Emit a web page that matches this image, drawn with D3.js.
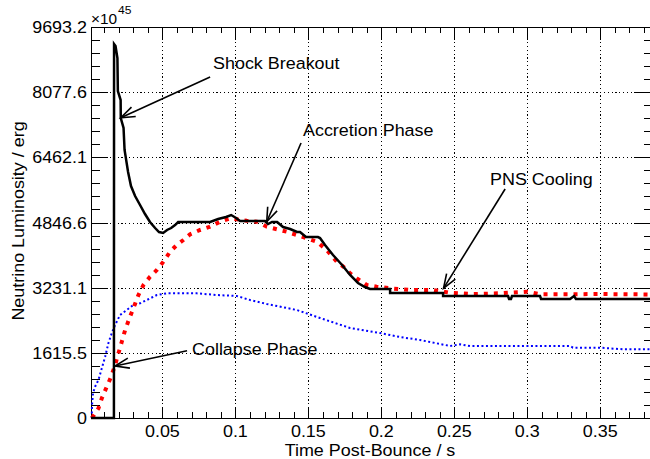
<!DOCTYPE html>
<html><head><meta charset="utf-8">
<script src="https://cdn.jsdelivr.net/npm/d3@7"></script>
<style>body{margin:0;background:#fff}svg{display:block}</style>
</head><body><svg id="c" width="650" height="459"></svg>
<script>
// ---- data ----
const blackT = [0.0011,0.0168,0.0169,0.0179,0.0192,0.0195,0.0214,0.0215,0.0234,0.0241,0.0265,0.0285,0.0313,0.0347,0.0381,0.0415,0.0450,0.0477,0.0505,0.0532,0.0560,0.0587,0.0608,0.0827,0.0882,0.0936,0.0971,0.1005,0.1032,0.1203,0.1224,0.1251,0.1286,0.1327,0.1375,0.1423,0.1443,0.1484,0.1566,0.1580,0.1614,0.1669,0.1731,0.1786,0.1840,0.1888,0.1922,0.2060,0.2060,0.2423,0.2423,0.2868,0.2875,0.2888,0.2895,0.3087,0.3094,0.3293,0.3320,0.3333,0.3861];
const blackL = [0,0,9271,9222,8924,8106,7883,7437,7189,6644,6098,5751,5503,5280,5057,4859,4710,4611,4586,4661,4710,4784,4859,4859,4933,4983,5032,4958,4884,4884,4809,4859,4859,4735,4685,4611,4611,4487,4487,4462,4289,4041,3793,3545,3347,3247,3198,3198,3099,3099,3024,3024,2950,2950,3024,3024,2950,2950,3024,2950,2950];

const redT = [0.0018,0.0062,0.0085,0.0119,0.0149,0.0176,0.0199,0.0222,0.0245,0.0274,0.0301,0.0336,0.0370,0.0416,0.0462,0.0507,0.0553,0.0599,0.0644,0.0690,0.0758,0.0827,0.0895,0.0964,0.1010,0.1078,0.1147,0.1215,0.1284,0.1352,0.1421,0.1489,0.1558,0.1626,0.1695,0.1740,0.1786,0.1832,0.1900,0.1968,0.2060,0.2197,0.2357,0.2471,0.2631,0.2813,0.2996,0.3087,0.3292,0.3498,0.3861];
const redL = [0,240,488,776,1024,1314,1604,1891,2182,2472,2720,3049,3297,3503,3669,3875,4123,4289,4413,4554,4661,4742,4866,4951,4926,4891,4866,4742,4678,4618,4537,4455,4370,4165,3875,3751,3587,3463,3297,3255,3215,3173,3173,3106,3074,3091,3131,3067,3067,3074,3062];

const blueT = [0.0016,0.0018,0.0025,0.0039,0.0062,0.0085,0.0108,0.0130,0.0153,0.0176,0.0210,0.0256,0.0301,0.0347,0.0393,0.0462,0.0530,0.0621,0.0736,0.0873,0.1010,0.1101,0.1215,0.1329,0.1421,0.1580,0.1786,0.1991,0.2128,0.2265,0.2471,0.2539,0.2608,0.3292,0.3313,0.3498,0.3656,0.3861];
const blueL = [0,322,620,776,942,1232,1520,1852,2100,2305,2553,2677,2801,2843,2925,3049,3091,3091,3091,3049,3024,2925,2826,2744,2677,2479,2231,2107,2008,1934,1785,1827,1785,1785,1743,1743,1703,1703];

const xTickValues = [0.05,0.1,0.15,0.2,0.25,0.3,0.35];
const xTickLabels = ["0.05","0.1","0.15","0.2","0.25","0.3","0.35"];
const yTickLabels = ["0","1615.5","3231.1","4846.6","6462.1","8077.6","9693.2"];
const yTickValues = [0,1615.53,3231.07,4846.6,6462.13,8077.67,9693.2];

const annLabels = ["Shock Breakout","Accretion Phase","PNS Cooling","Collapse Phase"];
const annTipT = [0.0215,0.1215,0.2426,0.0176];
const annTipL = [7445,4866,3215,1289];
const annTailT = [0.0827,0.1450,0.2848,0.0669];
const annTailL = [8453,6817,5677,1668];

// ---- layout ----
const L0 = 91, R0 = 653, T0 = 27, B0 = 418;
const FONT = "'Liberation Sans', Arial, Helvetica, sans-serif";
const FS = 16.3, SX = 1.1;

const x = d3.scaleLinear().domain([0.0011, 0.3861]).range([L0, R0]);
const y = d3.scaleLinear().domain([0, 9693.2]).range([B0, T0]);

const svg = d3.select("#c");
svg.append("rect").attr("width",650).attr("height",459).attr("fill","#fff");

function txt(str, px, py, anchor, size, rot) {
  return svg.append("text")
    .attr("transform", `translate(${px},${py})` + (rot ? ` rotate(${rot})` : "") + ` scale(${SX},1)`)
    .attr("text-anchor", anchor || "start")
    .attr("font-family", FONT)
    .attr("font-size", size || FS)
    .attr("fill", "#000")
    .text(str);
}

// grid
const grid = svg.append("g").attr("stroke","#000").attr("stroke-width",1).attr("stroke-dasharray","1.2,2.6").attr("shape-rendering","crispEdges");
xTickValues.forEach(v => grid.append("line").attr("x1",Math.round(x(v))+0.5).attr("x2",Math.round(x(v))+0.5).attr("y1",T0).attr("y2",B0));
yTickValues.slice(1,6).forEach(v => grid.append("line").attr("y1",Math.round(y(v))+0.5).attr("y2",Math.round(y(v))+0.5).attr("x1",L0).attr("x2",R0));

// frame
svg.append("rect").attr("x",L0+0.5).attr("y",T0+0.5).attr("width",R0-L0).attr("height",B0-T0)
  .attr("fill","none").attr("stroke","#000").attr("stroke-width",1).attr("shape-rendering","crispEdges");

// ticks
const tk = svg.append("g").attr("stroke","#000").attr("stroke-width",1).attr("shape-rendering","crispEdges");
const xMinor = d3.range(1,39).map(i=>i/100).filter(v => Math.round(v*100)%5 !== 0);
function xtick(v, len){
  const px = Math.round(x(v))+0.5;
  tk.append("line").attr("x1",px).attr("x2",px).attr("y1",B0).attr("y2",B0-len);
  tk.append("line").attr("x1",px).attr("x2",px).attr("y1",T0).attr("y2",T0+len);
}
xMinor.forEach(v => xtick(v,6));
xTickValues.forEach(v => xtick(v,11));
function ytick(v, len){
  const py = Math.round(y(v))+0.5;
  tk.append("line").attr("y1",py).attr("y2",py).attr("x1",L0).attr("x2",L0+len);
  tk.append("line").attr("y1",py).attr("y2",py).attr("x1",R0).attr("x2",R0-len);
}
for (let i=0;i<6;i++){
  for (let j=1;j<5;j++){ ytick(yTickValues[i] + (yTickValues[i+1]-yTickValues[i])*j/5, 9); }
}
yTickValues.forEach(v => ytick(v,17));

// data lines
const line = d3.line().x(d=>x(d[0])).y(d=>y(d[1]));
svg.append("path").attr("d", line(blueT.map((t,i)=>[t,blueL[i]])))
  .attr("fill","none").attr("stroke","#0000ff").attr("stroke-width",2).attr("stroke-dasharray","2,2.5");
svg.append("path").attr("d", line(redT.map((t,i)=>[t,redL[i]])))
  .attr("fill","none").attr("stroke","#ff0000").attr("stroke-width",4).attr("stroke-dasharray","4,6");
svg.append("path").attr("d", line(blackT.map((t,i)=>[t,blackL[i]])))
  .attr("fill","none").attr("stroke","#000").attr("stroke-width",2.5).attr("stroke-linejoin","miter");

// tick labels
xTickValues.forEach((v,i) => txt(xTickLabels[i], x(v), 437, "middle"));
yTickValues.forEach((v,i) => txt(yTickLabels[i], 87, y(v)+6, "end"));

// multiplier
txt("\u00d710", 91, 24, "start", 14);
txt("45", 118, 14, "start", 11);

// axis titles
txt("Time Post-Bounce / s", (L0+R0)/2 - 2, 456, "middle");
txt("Neutrino Luminosity / erg", 24, 221, "middle", FS, -90);

// annotations
const arrows = svg.append("g").attr("stroke","#000").attr("stroke-width",1.6).attr("fill","none");
annLabels.forEach((lab,i) => {
  const tx = x(annTipT[i]), ty = y(annTipL[i]);
  const sx = x(annTailT[i]), sy = y(annTailL[i]);
  arrows.append("line").attr("x1",sx).attr("y1",sy).attr("x2",tx).attr("y2",ty);
  const a = Math.atan2(sy-ty, sx-tx), h = 15, w = 20*Math.PI/180;
  arrows.append("path").attr("d",
    `M${tx+h*Math.cos(a+w)},${ty+h*Math.sin(a+w)} L${tx},${ty} L${tx+h*Math.cos(a-w)},${ty+h*Math.sin(a-w)}`);
});
txt(annLabels[0], 213, 69, "start");
txt(annLabels[1], 303, 136, "start");
txt(annLabels[2], 490, 185, "start");
txt(annLabels[3], 192, 355, "start");
</script></body></html>
